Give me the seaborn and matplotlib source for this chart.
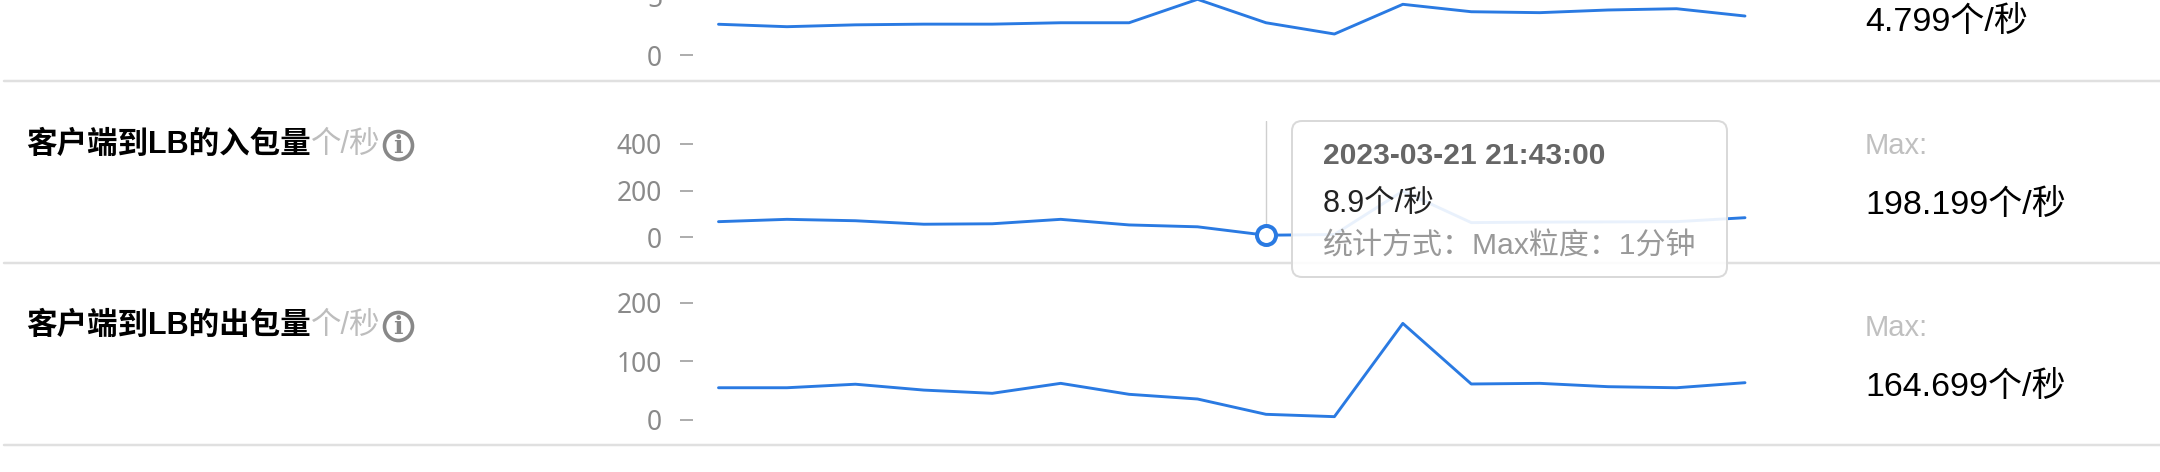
import numpy as np
import pandas as pd
import seaborn as sns
import matplotlib
matplotlib.use("Agg")
import matplotlib.pyplot as plt
from matplotlib.lines import Line2D
from matplotlib.patches import FancyBboxPatch
from matplotlib.transforms import Affine2D

# ---------------- data ----------------
minutes = list(range(16))
top_vals = [2.65, 2.44, 2.60, 2.66, 2.66, 2.78, 2.78, 4.799, 2.78, 1.81, 4.37, 3.73, 3.65, 3.88, 3.99, 3.36]
in_vals = [67, 77, 71, 56, 58, 77, 53, 45, 8.9, 12, 198.199, 63, 65, 66, 67, 84]
out_vals = [55, 55, 61, 51, 45.5, 62.5, 43.8, 35.8, 9.7, 5.7, 164.699, 61.4, 62.5, 56.8, 55, 63.6]
top_ticks = [0, 5]
in_ticks = [0, 200, 400]
out_ticks = [0, 100, 200]
titles = ["客户端到LB的入包量", "客户端到LB的出包量"]
unit = "个/秒"
max_word = "Max:"
max_labels = ["4.799", "198.199", "164.699"]
tooltip_time = "2023-03-21 21:43:00"
tooltip_value = "8.9"
tooltip_note = "统计方式：Max粒度：1分钟"
hover_index = 8

# ---------------- style ----------------
W, H = 2160, 472
sns.set_theme(style="white")
plt.rcParams['font.family'] = ['Liberation Sans', 'Noto Sans CJK SC', 'DejaVu Sans']
LINE = "#2a7ae2"
PT = 72 / 100  # points per pixel at dpi 100

fig = plt.figure(figsize=(W / 100, H / 100), dpi=100)
fig.patch.set_facecolor("white")
px = Affine2D().scale(1 / W, -1 / H).translate(0, 1) + fig.transFigure

X0, DX = 718.5, (1745 - 718.5) / 15
AX_L, AX_R = 693, 1750


def panel(vals, ticks, y0, k, T, B):
    ax = fig.add_axes([AX_L / W, 1 - B / H, (AX_R - AX_L) / W, (B - T) / H])
    ax.set_facecolor("none")
    df = pd.DataFrame({"t": minutes, "v": vals})
    sns.lineplot(data=df, x="t", y="v", ax=ax, color=LINE, linewidth=2.9 * PT)
    ax.set_xlim((AX_L - X0) / DX, (AX_R - X0) / DX)
    ax.set_ylim((y0 - B) / k, (y0 - T) / k)
    ax.set_yticks(ticks)
    ax.set_yticklabels([str(t) for t in ticks])
    ax.set_xticks([])
    ax.set_xlabel("")
    ax.set_ylabel("")
    for s in ax.spines.values():
        s.set_visible(False)
    ax.tick_params(axis="y", left=True, length=13 * PT, width=1.7 * PT, color="#a0a0a0",
                   pad=18 * PT, labelsize=19, labelcolor="#8a8a8a",
                   labelfontfamily="Noto Sans")
    return ax


ax_top = panel(top_vals, top_ticks, 55, 11.6, -20, 62)
ax_in = panel(in_vals, in_ticks, 237.3, 0.2333, 121, 245)
ax_out = panel(out_vals, out_ticks, 420, 0.5865, 290, 428)

# hover guide + marker on the inbound panel
lo, hi = ax_in.get_ylim()
ax_in.axvline(hover_index, ymin=(in_vals[hover_index] - lo) / (hi - lo), ymax=1,
              color="#cfcfcf", lw=1.4 * PT, zorder=1)
ax_in.plot([hover_index], [in_vals[hover_index]], marker="o", ms=19 * PT, mfc="white",
           mec=LINE, mew=4 * PT, zorder=5, clip_on=False)

# separators
for y in [81, 262.7, 444.5]:
    fig.add_artist(Line2D([4, W], [y, y], transform=px, color="#e0e0e0", lw=2.5 * PT, zorder=1))

renderer = fig.canvas.get_renderer()

# titles with unit and info icon
for title, yc in zip(titles, [145, 326]):
    t1 = fig.text(26, yc, title, transform=px, fontsize=22, fontweight="bold", color="#000000",
                  va="center", ha="left")
    x1 = t1.get_window_extent(renderer).x1
    t2 = fig.text(x1, yc, unit, transform=px, fontsize=22, color="#bdbdbd", va="center", ha="left")
    x2 = t2.get_window_extent(renderer).x1
    cx = x2 + 18
    fig.add_artist(Line2D([cx], [yc], transform=px, marker="o", ms=28 * PT, mfc="white",
                          mec="#888888", mew=3.6 * PT, ls="none"))
    fig.text(cx, yc + 1, "i", transform=px, fontsize=18, fontweight="bold", color="#888888",
             va="center", ha="center", family=["DejaVu Serif"])

# right side max labels
for lab, yc in zip(max_labels, [22, 205, 387]):
    fig.text(1865, yc, lab + unit, transform=px, fontsize=24.5, color="#000000", va="center", ha="left")
for yc in [146, 328]:
    fig.text(1865, yc, max_word, transform=px, fontsize=21, color="#c0c0c0", va="center", ha="left")

# tooltip
box = FancyBboxPatch((1292, 121), 1727 - 1292, 277 - 121,
                     boxstyle="round,pad=0,rounding_size=10", transform=px,
                     facecolor=(1, 1, 1, 0.9), edgecolor="#d9d9d9", lw=2 * PT, zorder=10)
fig.add_artist(box)
fig.text(1323, 156, tooltip_time, transform=px, fontsize=21.6, fontweight="bold", color="#666666",
         va="center", ha="left", zorder=11)
fig.text(1323, 204, tooltip_value + unit, transform=px, fontsize=22, color="#222222",
         va="center", ha="left", zorder=11)
fig.text(1323, 246, tooltip_note, transform=px, fontsize=21.6, color="#999999",
         va="center", ha="left", zorder=11)

fig.savefig("out.png", dpi=100, facecolor="white")
